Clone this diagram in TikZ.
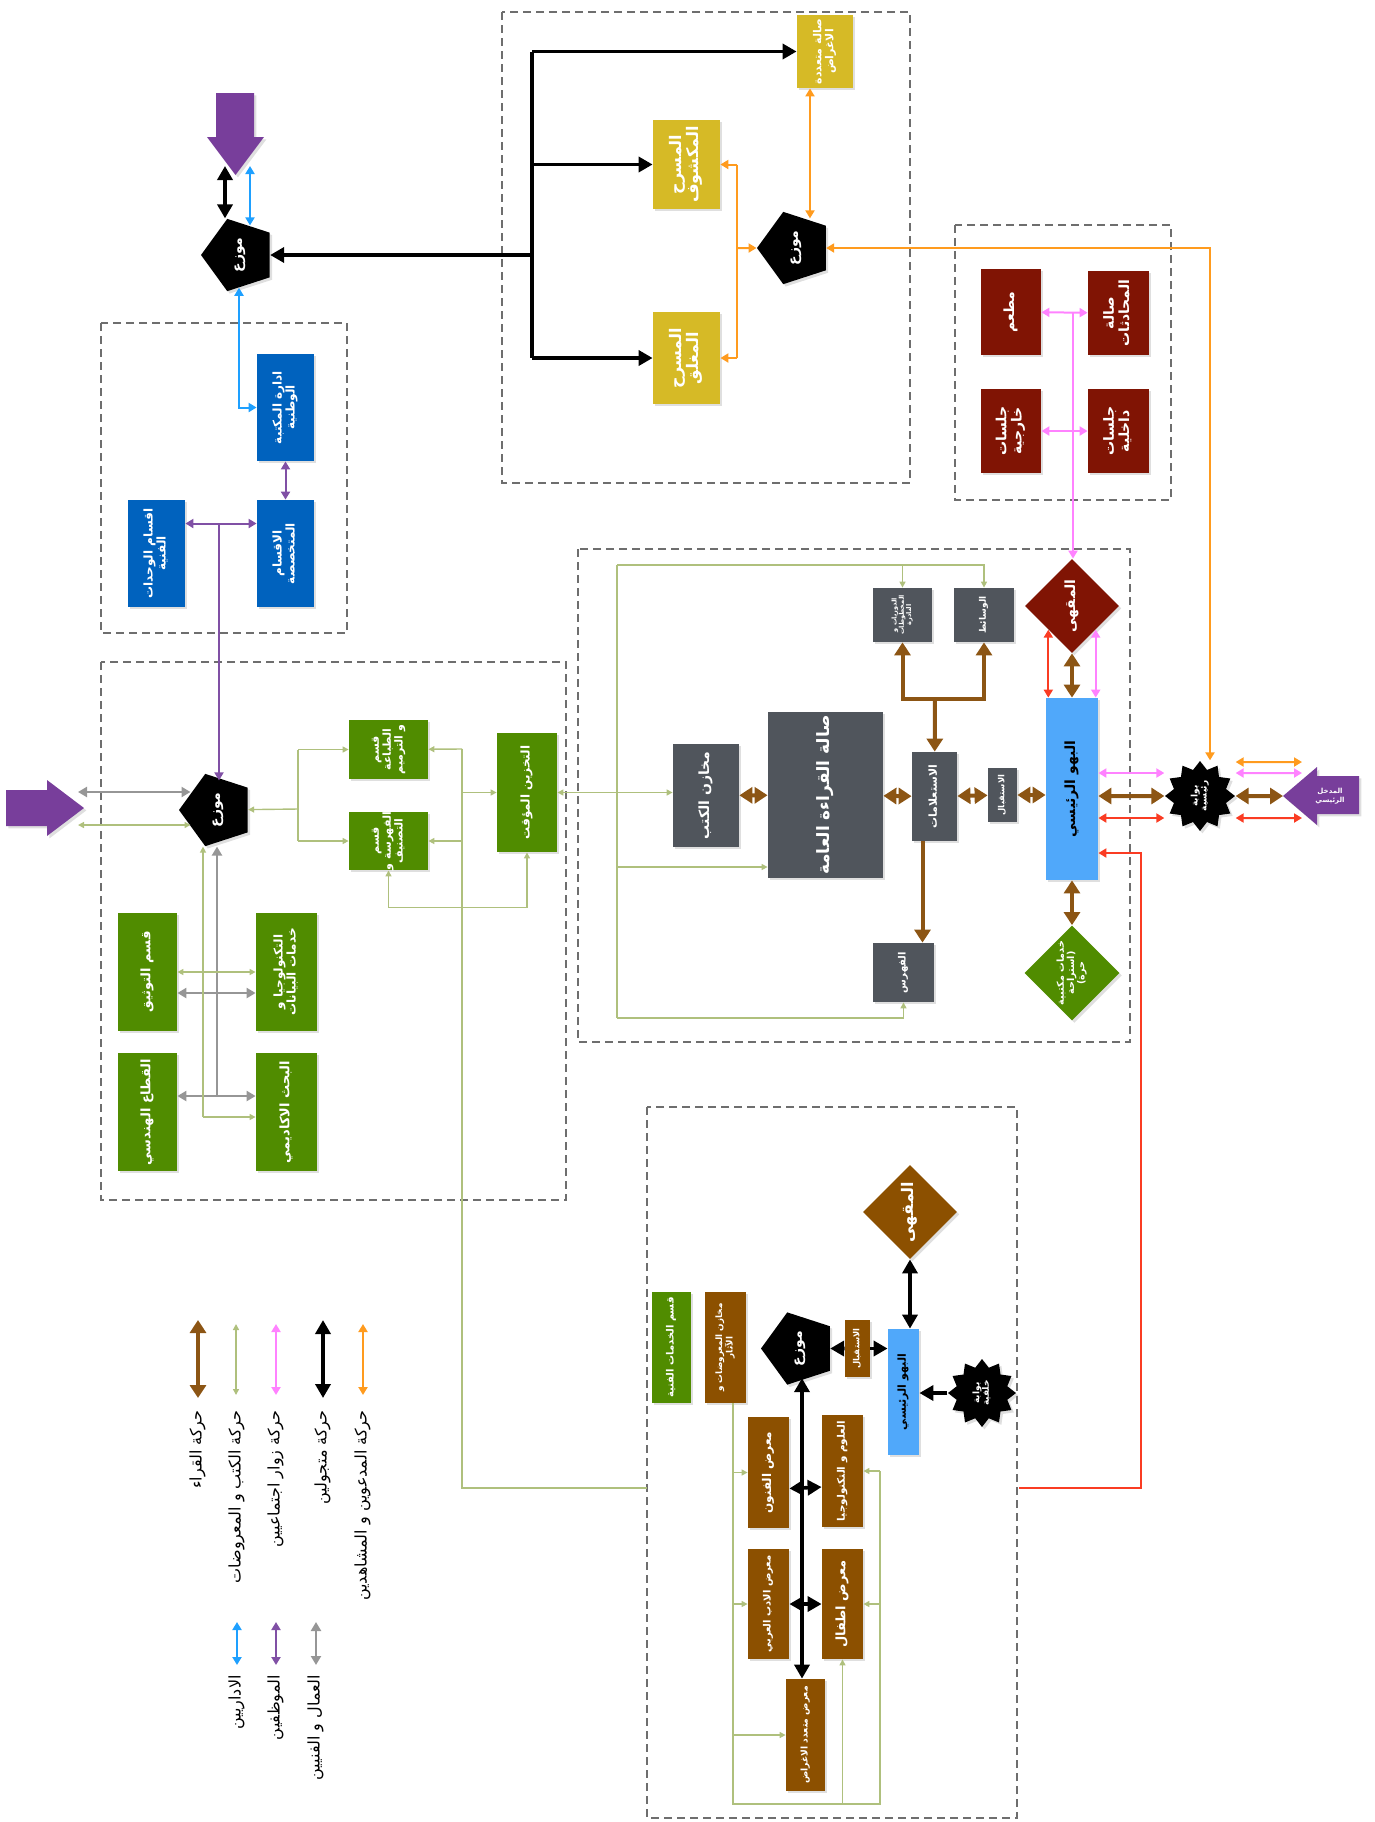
\documentclass[tikz,border=0pt]{standalone}
\usepackage{fontspec}
\usepackage{graphicx}
\usetikzlibrary{arrows.meta, positioning, calc, shapes.geometric, shadows}
\newfontfamily\arabicfont[Script=Arabic]{DejaVu Sans}
\TeXXeTstate=1
\definecolor{goldbox}{RGB}{214,186,38}
\definecolor{wine}{RGB}{128,20,4}
\definecolor{royal}{RGB}{0,98,190}
\definecolor{leaf}{RGB}{80,140,0}
\definecolor{slate}{RGB}{80,85,92}
\definecolor{umber}{RGB}{140,80,0}
\definecolor{skyhall}{RGB}{80,168,250}
\definecolor{plum}{RGB}{120,62,155}
\definecolor{flowbrown}{RGB}{140,85,20}
\definecolor{floworange}{RGB}{255,155,30}
\definecolor{flowpink}{RGB}{255,130,255}
\definecolor{flowred}{RGB}{250,60,35}
\definecolor{flowblue}{RGB}{30,160,255}
\definecolor{flowviolet}{RGB}{128,80,165}
\definecolor{flowgrey}{RGB}{150,150,150}
\definecolor{flowolive}{RGB}{175,192,125}
\definecolor{zonegrey}{RGB}{110,110,110}
\newcommand{\artext}[1]{\beginR #1\endR}
\newcommand{\vtext}[1]{\rotatebox{90}{\def\arraystretch{0.9}\begin{tabular}{@{}c@{}}#1\end{tabular}}}
\newcommand{\afs}[2]{\arabicfont\bfseries\fontsize{#1}{#2}\selectfont}
\tikzset{
  shd/.style={drop shadow={shadow xshift=1.2pt, shadow yshift=-1.2pt, opacity=0.25}},
  box/.style={rectangle, inner sep=0pt, text=white, shd},
  ybox/.style={box, fill=goldbox},
  rbox/.style={box, fill=wine},
  bbox/.style={box, fill=royal},
  gbox/.style={box, fill=leaf},
  kbox/.style={box, fill=slate},
  obox/.style={box, fill=umber},
  hallbox/.style={box, fill=skyhall, text=black},
  hub/.style={regular polygon, regular polygon sides=5, shape border rotate=90,
    fill=black, text=white, inner sep=0pt, minimum size=38pt, shd, font={\afs{7}{8}}},
  gate/.style={star, star points=12, star point ratio=1.3, fill=black, text=white,
    inner sep=0pt, minimum size=35pt, shd, font={\afs{4.5}{5}}},
  dia/.style={diamond, aspect=1, inner sep=0pt, minimum width=47pt, minimum height=47pt,
    text=white, shd},
  zone/.style={draw=zonegrey, line width=1.2pt, dash pattern=on 4pt off 2.5pt},
  legtxt/.style={inner sep=0pt, text=black, font={\arabicfont\fontsize{8}{9}\selectfont}},
  brn/.style={draw=flowbrown, line width=2pt, >={Triangle[width=8pt,length=6.5pt]}},
  blk/.style={draw=black, line width=1.8pt, >={Triangle[width=7.5pt,length=7pt]}},
  org/.style={draw=floworange, line width=1pt, >={Triangle[width=4.5pt,length=4pt]}},
  pnk/.style={draw=flowpink, line width=1pt, >={Triangle[width=4.5pt,length=4pt]}},
  rdl/.style={draw=flowred, line width=1pt, >={Triangle[width=4.5pt,length=4pt]}},
  sky/.style={draw=flowblue, line width=1pt, >={Triangle[width=4.5pt,length=4pt]}},
  vio/.style={draw=flowviolet, line width=1pt, >={Triangle[width=4.5pt,length=4pt]}},
  gry/.style={draw=flowgrey, line width=1.1pt, >={Triangle[width=5pt,length=4.5pt]}},
  olv/.style={draw=flowolive, line width=0.7pt, >={Triangle[width=3pt,length=3pt]}}
}
\begin{document}
\begin{tikzpicture}[x=0.5pt, y=-0.5pt]
    \useasboundingbox (0,0) rectangle (1375,1822);

    % ---- ZONES ----
    \draw[zone] (502,12) rectangle (910,483);
    \draw[zone] (955,225) rectangle (1171,500);
    \draw[zone] (101,323) rectangle (347,633);
    \draw[zone] (101,662) rectangle (566,1200);
    \draw[zone] (578,549) rectangle (1130,1042);
    \draw[zone] (647,1107) rectangle (1017,1818);

    % ---- ENTRANCES ----
    \fill[plum, shd] (216,93) -- (254,93) -- (254,137) -- (264,137) -- (235.5,175)
        -- (207,137) -- (216,137) -- cycle;
    \fill[plum, shd] (6,790) -- (47,790) -- (47,780) -- (84,808) -- (47,836)
        -- (47,826) -- (6,826) -- cycle;
    \fill[plum, shd] (1359,776) -- (1317,776) -- (1317,767) -- (1283,796)
        -- (1317,825) -- (1317,814) -- (1359,814) -- cycle;
    \node[text=white, font={\afs{3.5}{4.2}}, align=center] (entlbl) at (1330,796)
        {\artext{المدخل}\\\artext{الرئيسي}};
    \coordinate (entip) at (1283,796);

    % ---- ZONE 1: THEATRES ----
    \node[ybox, minimum width=28pt, minimum height=36.5pt, font={\afs{5.5}{6.5}}] (multi) at (825,51.5)
        {\vtext{\artext{صالة متعددة}\\\artext{الاغراض}}};
    \node[ybox, minimum width=33.5pt, minimum height=44.5pt, font={\afs{8}{9.5}}] (openst) at (686.5,164.5)
        {\vtext{\artext{المسرح}\\\artext{المكشوف}}};
    \node[ybox, minimum width=33.5pt, minimum height=46pt, font={\afs{8}{9.5}}] (closedst) at (686.5,358)
        {\vtext{\artext{المسرح}\\\artext{المغلق}}};
    \node[hub] (hubtop) at (795,248) {\vtext{\artext{موزع}}};
    \node[hub] (hubnw) at (239,255) {\vtext{\artext{موزع}}};

    % ---- ZONE 2: SOCIAL ----
    \node[rbox, minimum width=30pt, minimum height=43pt, font={\afs{7}{8.5}}] (rest) at (1011,312)
        {\vtext{\artext{مطعم}}};
    \node[rbox, minimum width=30.5pt, minimum height=42pt, font={\afs{7}{8.5}}] (chat) at (1118.5,313)
        {\vtext{\artext{صالة}\\\artext{المحادثات}}};
    \node[rbox, minimum width=30pt, minimum height=42pt, font={\afs{7}{8.5}}] (outseat) at (1011,431)
        {\vtext{\artext{جلسات}\\\artext{خارجية}}};
    \node[rbox, minimum width=30.5pt, minimum height=42pt, font={\afs{7}{8.5}}] (inseat) at (1118.5,431)
        {\vtext{\artext{جلسات}\\\artext{داخلية}}};

    % ---- ZONE 3: ADMINISTRATION ----
    \node[bbox, minimum width=28.5pt, minimum height=53.5pt, font={\afs{6}{7.2}}] (admin) at (285.5,407.5)
        {\vtext{\artext{ادارة المكتبة}\\\artext{الوطنية}}};
    \node[bbox, minimum width=28.5pt, minimum height=53.5pt, font={\afs{6}{7.2}}] (spec) at (285.5,553.5)
        {\vtext{\artext{الاقسام}\\\artext{المتخصصة}}};
    \node[bbox, minimum width=28.5pt, minimum height=53.5pt, font={\afs{6}{7.2}}] (techunits) at (156.5,553.5)
        {\vtext{\artext{اقسام الوحدات}\\\artext{الفنية}}};

    % ---- ZONE 5: TECHNICAL SERVICES ----
    \node[hub] (hubw) at (217,810) {\vtext{\artext{موزع}}};
    \node[gbox, minimum width=39.5pt, minimum height=29.5pt, font={\afs{5.5}{6.5}}] (print) at (388.5,749.5)
        {\vtext{\artext{قسم}\\\artext{الطباعة}\\\artext{و الترميم}}};
    \node[gbox, minimum width=39.5pt, minimum height=29pt, font={\afs{5.5}{6.5}}] (catalog) at (388.5,841)
        {\vtext{\artext{قسم}\\\artext{الفهرسة و}\\\artext{التصنيف}}};
    \node[gbox, minimum width=30pt, minimum height=59.5pt, font={\afs{6}{7}}] (tempst) at (527,792.5)
        {\vtext{\artext{التخزين المؤقت}}};
    \node[gbox, minimum width=29.5pt, minimum height=59pt, font={\afs{6.5}{7.5}}] (docu) at (147.5,972)
        {\vtext{\artext{قسم التوثيق}}};
    \node[gbox, minimum width=30.5pt, minimum height=59pt, font={\afs{6}{7.2}}] (techdata) at (286.5,972)
        {\vtext{\artext{التكنولوجيا و}\\\artext{خدمات البيانات}}};
    \node[gbox, minimum width=29.5pt, minimum height=59pt, font={\afs{6.5}{7.5}}] (eng) at (147.5,1112)
        {\vtext{\artext{القطاع الهندسي}}};
    \node[gbox, minimum width=30.5pt, minimum height=59pt, font={\afs{6.5}{7.5}}] (acad) at (286.5,1112)
        {\vtext{\artext{البحث الاكاديمي}}};

    % ---- ZONE 4: LIBRARY ----
    \node[dia, fill=wine, font={\afs{7}{8}}] (cafe) at (1072,606) {\vtext{\artext{المقهى}}};
    \node[kbox, minimum width=30pt, minimum height=27pt, font={\afs{4.5}{5.5}}] (media) at (984,615)
        {\vtext{\artext{الوسائط}}};
    \node[kbox, minimum width=29.5pt, minimum height=27pt, font={\afs{3.3}{4}}] (period) at (902.5,615)
        {\vtext{\artext{الدوريات و}\\\artext{المخطوطات}\\\artext{النادرة}}};
    \node[kbox, minimum width=33pt, minimum height=51.5pt, font={\afs{7}{8}}] (stores) at (706,795.5)
        {\vtext{\artext{مخازن الكتب}}};
    \node[kbox, minimum width=57.5pt, minimum height=83pt, font={\afs{8.5}{10}}] (hall) at (825.5,795)
        {\vtext{\artext{صالة القراءة العامة}}};
    \node[kbox, minimum width=22.5pt, minimum height=44.5pt, font={\afs{5.5}{6.5}}] (inq) at (934.5,796.5)
        {\vtext{\artext{الاستعلامات}}};
    \node[kbox, minimum width=14.5pt, minimum height=27pt, font={\afs{4.2}{5}}] (recep) at (1002.5,795)
        {\vtext{\artext{الاستقبال}}};
    \node[hallbox, minimum width=26pt, minimum height=91pt, font={\afs{7}{8}}] (lobby) at (1072,789)
        {\vtext{\artext{البهو الرئيسي}}};
    \node[kbox, minimum width=30.5pt, minimum height=29.5pt, font={\afs{5}{6}}] (index) at (903.5,972.5)
        {\vtext{\artext{الفهرس}}};
    \node[dia, fill=leaf, font={\afs{4.8}{5.6}}] (serv) at (1072,973)
        {\vtext{\artext{خدمات مكتبية}\\\artext{(استراحة}\\\artext{حرة)}}};
    \node[gate] (gatemain) at (1200,796) {\vtext{\artext{بوابة}\\\artext{رئيسية}}};

    % ---- ZONE 6: EXHIBITIONS ----
    \node[dia, fill=umber, font={\afs{8}{9}}] (cafe2) at (910,1212) {\vtext{\artext{المقهى}}};
    \node[hallbox, minimum width=15.5pt, minimum height=63pt, font={\afs{5.5}{6.5}}] (lobby2) at (903.5,1392)
        {\vtext{\artext{البهو الرئيسي}}};
    \node[gate, minimum size=34pt] (gate2) at (982,1393) {\vtext{\artext{بوابة}\\\artext{خلفية}}};
    \node[obox, minimum width=12.5pt, minimum height=28.5pt, font={\afs{4.2}{5}}] (recep2) at (857.5,1348.5)
        {\vtext{\artext{الاستقبال}}};
    \node[hub] (hubs) at (799,1348.5) {\vtext{\artext{موزع}}};
    \node[obox, minimum width=20.5pt, minimum height=55.5pt, font={\afs{6}{7}}] (arts) at (768.5,1472.5)
        {\vtext{\artext{معرض الفنون}}};
    \node[obox, minimum width=20.5pt, minimum height=56pt, font={\afs{5.2}{6}}] (sci) at (842.5,1471)
        {\vtext{\artext{العلوم و التكنولوجيا}}};
    \node[obox, minimum width=20.5pt, minimum height=55pt, font={\afs{5}{6}}] (lit) at (768.5,1604)
        {\vtext{\artext{معرض الادب العربي}}};
    \node[obox, minimum width=20.5pt, minimum height=55pt, font={\afs{6.5}{7.5}}] (kids) at (842.5,1604)
        {\vtext{\artext{معرض اطفال}}};
    \node[obox, minimum width=19.5pt, minimum height=56pt, font={\afs{4.6}{5.5}}] (multi2) at (805.5,1735)
        {\vtext{\artext{معرض متعدد الاغراض}}};
    \node[obox, minimum width=20.5pt, minimum height=55.5pt, font={\afs{4.4}{5.2}}] (exstore) at (725.5,1347.5)
        {\vtext{\artext{مخازن المعروضات و}\\\artext{الآثار}}};
    \node[gbox, minimum width=19.5pt, minimum height=55.5pt, font={\afs{5}{6}}] (tserv) at (671.5,1347.5)
        {\vtext{\artext{قسم الخدمات الفنية}}};

    % ---- BLACK: VISITORS ----
    \coordinate (tk) at (532,255);
    \draw[blk,->] (tk) -- (hubnw);
    \draw[blk] (tk) -- (tk |- multi) (tk) -- (tk |- closedst);
    \draw[blk,->] (tk |- multi) -- (multi);
    \draw[blk,->] (tk |- openst) -- (openst);
    \draw[blk,->] (tk |- closedst) -- (closedst);
    \coordinate (topk) at (225,166);
    \draw[blk,<->] (topk) -- (topk |- hubnw.corner 5);
    \draw[blk,<->] (cafe2) -- (cafe2 |- lobby2.north);
    \draw[blk,->] (gate2) -- (gate2 -| lobby2.east);
    \draw[blk,->] (recep2) -- (recep2 -| lobby2.west);
    \draw[blk,->] (recep2) -- (hubs);
    \draw[blk,<->] (hubs.side 2 -| 802,0) -- (multi2.north -| 802,0);
    \draw[blk,<->] ([yshift=-8pt]arts.east) -- ([yshift=-8pt]sci.west);
    \draw[blk,<->] (lit) -- (kids);

    % ---- ORANGE: GUESTS ----
    \coordinate (obr) at (737,248);
    \draw[org,->] (obr) -- (hubtop);
    \draw[org] (obr |- openst) -- (obr |- closedst);
    \draw[org,->] (obr |- openst) -- (openst);
    \draw[org,->] (obr |- closedst) -- (closedst);
    \draw[org,<->] ([xshift=-7.5pt]multi.south) -- ([xshift=-7.5pt]multi.south |- hubtop.side 4);
    \draw[org,<->] (hubtop) -| ([xshift=5pt]gatemain.north);
    \draw[org,<->] ([yshift=17pt]gatemain.east) -- ([yshift=17pt,xshift=9.5pt]entip);

    % ---- PINK: SOCIAL VISITORS ----
    \coordinate (pk) at (1073,313);
    \draw[pnk,<->] (rest) -- (chat);
    \draw[pnk,<->] (outseat) -- (inseat);
    \draw[pnk,->] (pk) -- (pk |- cafe.north);
    \draw[pnk,<->] (cafe.south east) -- (cafe.south east |- lobby.north);
    \draw[pnk,<->] ([yshift=8pt]lobby.east) -- ([yshift=8pt]lobby.east -| gatemain.west);
    \draw[pnk,<->] ([yshift=11.5pt]gatemain.east) -- ([yshift=11.5pt,xshift=9.5pt]entip);

    % ---- RED ----
    \coordinate (rdout) at (1019,1488);
    \coordinate (rdup) at (1141,853);
    \draw[rdl,<->] (cafe.south west) -- (cafe.south west |- lobby.north);
    \draw[rdl,<->] ([yshift=-14.5pt]lobby.east) -- ([yshift=-14.5pt]lobby.east -| gatemain.west);
    \draw[rdl,<->] ([yshift=-11pt]gatemain.east) -- ([yshift=-11pt,xshift=9.5pt]entip);
    \draw[rdl,->] (rdout) -| (rdup) -- (rdup -| lobby.east);

    % ---- BROWN: READERS ----
    \coordinate (bj) at (935,699);
    \draw[brn,<->] (stores) -- (hall);
    \draw[brn,<->] (hall) -- (inq);
    \draw[brn,<->] (inq) -- (recep);
    \draw[brn,<->] (recep) -- (recep -| lobby.west);
    \draw[brn,<->] (gatemain) -- (gatemain -| lobby.east);
    \draw[brn,<->] (gatemain) -- (entip);
    \draw[brn,->] (bj) -- (inq);
    \draw[brn,->] (bj) -| (period);
    \draw[brn,->] (bj) -| (media);
    \draw[brn,->] ([xshift=-6pt]inq.south) -- ([xshift=-6pt]inq.south |- index.north);
    \draw[brn,<->] (lobby) -- (cafe);
    \draw[brn,<->] (lobby) -- (serv);

    % ---- BLUE / VIOLET: STAFF ----
    \coordinate (topb) at (250,166);
    \coordinate (stafft) at (219,523);
    \draw[sky,<->] (topb) -- (topb |- hubnw.side 4);
    \draw[sky,<->] (hubnw) |- (admin);
    \draw[vio,<->] (admin) -- (spec);
    \draw[vio,<->] ([yshift=15pt]techunits.east) -- ([yshift=15pt]spec.west);
    \draw[vio,->] (stafft) -- (stafft |- hubw.side 4);

    % ---- GREY: WORKERS ----
    \coordinate (wg) at (78,792);
    \coordinate (gb) at (217,1096);
    \draw[gry,<->] (wg) -- ([xshift=6pt]wg -| hubw.corner 1);
    \draw[gry,->] (gb) -- (gb |- hubw.corner 2);
    \draw[gry,<->] ([yshift=-10.5pt]docu.east) -- ([yshift=-10.5pt]techdata.west);
    \draw[gry,<->] ([yshift=8pt]eng.east) -- ([yshift=8pt]acad.west);

    % ---- OLIVE: BOOKS AND EXHIBITS ----
    \coordinate (wo) at (78,825);
    \coordinate (olb) at (203,1117);
    \coordinate (obk) at (298,809);
    \coordinate (oga) at (462,749);
    \coordinate (ogo) at (462,1488);
    \coordinate (ogin) at (647,1488);
    \coordinate (ot) at (617,565);
    \coordinate (obt) at (617,1018);
    \coordinate (oh) at (617,867);
    \coordinate (ol) at (733,1804);
    \coordinate (orr) at (880,1804);
    \draw[olv,<->] (wo) -- ([xshift=6pt]wo -| hubw.corner 1);
    \draw[olv,->] (olb) -- (olb |- hubw.corner 2);
    \draw[olv,->] (olb) -- (olb -| acad.west);
    \draw[olv,<->] (docu) -- (techdata);
    \draw[olv,->] (obk) -- (hubw);
    \draw[olv] (obk |- print) -- (obk |- catalog);
    \draw[olv,->] (obk |- print) -- (print);
    \draw[olv,->] (obk |- catalog) -- (catalog);
    \draw[olv] (ogin) -- (ogo) -- (oga);
    \draw[olv,->] (oga) -- (print);
    \draw[olv,->] (oga |- catalog) -- (catalog);
    \draw[olv,->] (oga |- tempst) -- (tempst);
    \draw[olv,<->] (tempst.south) -- ++(0,55) -| (catalog.south);
    \draw[olv,<->] (tempst) -- (tempst -| stores.west);
    \draw[olv] (ot) -- (obt);
    \draw[olv,->] (ot) -| (media);
    \draw[olv,->] (ot -| period) -- (period);
    \draw[olv,->] (oh) -- (oh -| hall.west);
    \draw[olv,->] (obt) -| (index);
    \draw[olv] (exstore.south -| ol) -- (ol) -- (orr) -- (orr |- sci);
    \draw[olv,->] (ol |- arts) -- (arts);
    \draw[olv,->] (ol |- lit) -- (lit);
    \draw[olv,->] (ol |- multi2) -- (multi2);
    \draw[olv,->] (orr |- sci) -- (sci);
    \draw[olv,->] (orr |- kids) -- (kids);
    \draw[olv,->] (kids.south |- ol) -- (kids.south);

    % ---- LEGEND ----
    \coordinate (lg1a) at (198,1320); \coordinate (lg1b) at (198,1398);
    \coordinate (lg2a) at (236,1324); \coordinate (lg2b) at (236,1395);
    \coordinate (lg3a) at (276,1324); \coordinate (lg3b) at (276,1395);
    \coordinate (lg4a) at (323,1320); \coordinate (lg4b) at (323,1398);
    \coordinate (lg5a) at (363,1324); \coordinate (lg5b) at (363,1395);
    \coordinate (lg6a) at (237,1622); \coordinate (lg6b) at (237,1665);
    \coordinate (lg7a) at (276,1622); \coordinate (lg7b) at (276,1665);
    \coordinate (lg8a) at (316,1622); \coordinate (lg8b) at (316,1665);
    \draw[brn,<->] (lg1a) -- (lg1b);
    \draw[olv,<->] (lg2a) -- (lg2b);
    \draw[pnk,<->] (lg3a) -- (lg3b);
    \draw[blk,<->] (lg4a) -- (lg4b);
    \draw[org,<->] (lg5a) -- (lg5b);
    \draw[sky,<->] (lg6a) -- (lg6b);
    \draw[vio,<->] (lg7a) -- (lg7b);
    \draw[gry,<->] (lg8a) -- (lg8b);
    \node[legtxt, anchor=north] (lgt1) at (198,1410) {\vtext{\artext{حركة القراء}}};
    \node[legtxt, anchor=north] (lgt2) at (237,1410) {\vtext{\artext{حركة الكتب و المعروضات}}};
    \node[legtxt, anchor=north] (lgt3) at (276,1410) {\vtext{\artext{حركة زوار اجتماعيين}}};
    \node[legtxt, anchor=north] (lgt4) at (323,1410) {\vtext{\artext{حركة متجولين}}};
    \node[legtxt, anchor=north] (lgt5) at (363,1410) {\vtext{\artext{حركة المدعوين و المشاهدين}}};
    \node[legtxt, anchor=north] (lgt6) at (237,1675) {\vtext{\artext{الاداريين}}};
    \node[legtxt, anchor=north] (lgt7) at (276,1675) {\vtext{\artext{الموظفين}}};
    \node[legtxt, anchor=north] (lgt8) at (316,1675) {\vtext{\artext{العمال و الفنيين}}};
\end{tikzpicture}
\end{document}
